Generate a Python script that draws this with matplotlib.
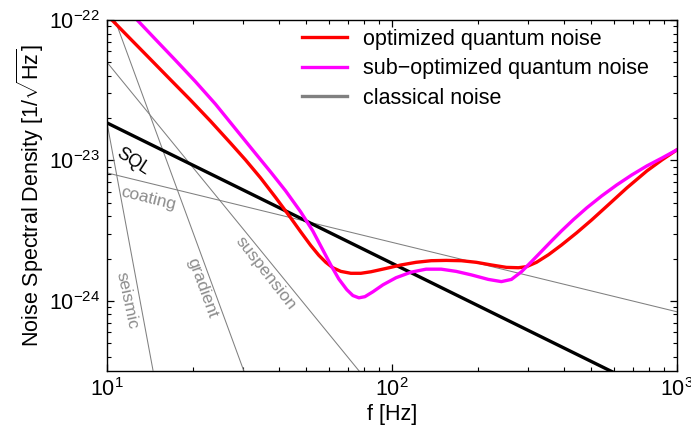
import matplotlib
matplotlib.use("Agg")
import matplotlib.pyplot as plt
from matplotlib.lines import Line2D

plt.rcParams['font.family'] = ['Liberation Sans', 'DejaVu Sans']
plt.rcParams['mathtext.fontset'] = 'custom'
plt.rcParams['mathtext.rm'] = 'Liberation Sans'
plt.rcParams['mathtext.it'] = 'Liberation Sans:italic'

# Optimized quantum noise: frequency [Hz] and amplitude spectral density [1/sqrt(Hz)]
f_opt = [10.41, 12.05, 14.17, 16.67, 19.60, 23.05, 27.11, 30.62, 34.57, 39.04,
         44.10, 47.82, 51.85, 55.35, 58.58, 61.98, 66.14, 71.73, 77.77, 84.36,
         95.25, 107.6, 121.5, 137.2, 155.0, 175.1, 197.6, 223.2, 252.0, 277.8,
         296.4, 321.4, 354.2, 393.6, 444.6, 502.1, 576.3, 666.8, 784.3, 885.6,
         1000.0]
asd_opt = [1.00e-22, 7.38e-23, 5.28e-23, 3.77e-23, 2.70e-23, 1.91e-23, 1.33e-23,
           1.008e-23, 7.51e-24, 5.45e-24, 3.90e-24, 3.10e-24, 2.48e-24, 2.11e-24,
           1.88e-24, 1.72e-24, 1.62e-24, 1.57e-24, 1.57e-24, 1.61e-24, 1.70e-24,
           1.80e-24, 1.88e-24, 1.93e-24, 1.94e-24, 1.93e-24, 1.88e-24, 1.80e-24,
           1.73e-24, 1.72e-24, 1.75e-24, 1.88e-24, 2.13e-24, 2.50e-24, 3.05e-24,
           3.77e-24, 4.86e-24, 6.37e-24, 8.42e-24, 1.008e-23, 1.19e-23]

# Sub-optimized quantum noise
f_sub = [12.76, 14.76, 17.35, 20.41, 24.01, 28.23, 33.20, 37.50, 42.33, 47.82,
         52.71, 57.15, 60.98, 65.06, 69.42, 72.89, 76.52, 80.34, 85.74, 92.97,
         103.3, 116.7, 131.7, 148.8, 168.0, 189.8, 217.8, 242.0, 262.4, 284.6,
         308.6, 334.6, 363.0, 393.6, 433.9, 482.2, 544.5, 614.8, 694.2, 784.3,
         885.6, 1000.0]
asd_sub = [1.00e-22, 7.32e-23, 5.19e-23, 3.65e-23, 2.52e-23, 1.68e-23, 1.12e-23,
           8.28e-24, 6.07e-24, 4.30e-24, 3.15e-24, 2.31e-24, 1.80e-24, 1.43e-24,
           1.20e-24, 1.09e-24, 1.05e-24, 1.07e-24, 1.16e-24, 1.30e-24, 1.46e-24,
           1.60e-24, 1.68e-24, 1.68e-24, 1.62e-24, 1.53e-24, 1.42e-24, 1.37e-24,
           1.42e-24, 1.61e-24, 1.90e-24, 2.25e-24, 2.67e-24, 3.15e-24, 3.80e-24,
           4.59e-24, 5.59e-24, 6.69e-24, 7.88e-24, 9.14e-24, 1.04e-23, 1.19e-23]

# Standard quantum limit (power law, end points)
f_sql = [10.0, 1000.0]
asd_sql = [1.85e-23, 1.85e-25]

# Classical noise budget (power laws, end points)
f_seismic = [10.0, 14.5]
asd_seismic = [1.85e-23, 3.2e-25]
f_gradient = [10.67, 30.2]
asd_gradient = [1.0e-22, 3.17e-25]
f_suspension = [10.0, 76.6]
asd_suspension = [5.0e-23, 3.17e-25]
f_coating = [10.0, 1000.0]
asd_coating = [8.15e-24, 8.35e-25]

gray = '#808080'
fig = plt.figure(figsize=(6.91, 4.32), dpi=100)
ax = fig.add_axes([107/691, 1-371/432, 570/691, 351/432])

for fx, ay in [(f_seismic, asd_seismic), (f_gradient, asd_gradient),
               (f_suspension, asd_suspension), (f_coating, asd_coating)]:
    ax.plot(fx, ay, color=gray, lw=0.75)

ax.plot(f_sql, asd_sql, color='black', lw=2.4)
ax.plot(f_opt, asd_opt, color='#ff0000', lw=2.4, solid_joinstyle='round')
ax.plot(f_sub, asd_sub, color='#ff00ff', lw=2.4, solid_joinstyle='round')

ax.set_xscale('log')
ax.set_yscale('log')
ax.set_xlim(10, 1000)
ax.set_ylim(10**-24.5, 1e-22)

ax.tick_params(which='both', direction='in', top=True, right=True, labelsize=15.5)
ax.tick_params(which='major', length=5, width=0.9, pad=5)
ax.tick_params(which='minor', length=2.8, width=0.8)
for s in ax.spines.values():
    s.set_linewidth(1.0)

ax.set_xlabel('f [Hz]', fontsize=15.5, labelpad=2)
ax.set_ylabel(r'Noise Spectral Density [1/$\sqrt{\mathrm{Hz}}$]', fontsize=15.5, labelpad=2)

# curve annotations
tc = '#8c8c8c'
ax.text(12.35, 9.75e-24, 'SQL', rotation=-33, fontsize=13, color='black',
        ha='center', va='center')
ax.text(13.94, 5.32e-24, 'coating', rotation=-14, fontsize=12.5, color=tc,
        ha='center', va='center')
ax.text(11.76, 1.0e-24, 'seismic', rotation=-78, fontsize=12.5, color=tc,
        ha='center', va='center')
ax.text(21.6, 1.24e-24, 'gradient', rotation=-70, fontsize=12.5, color=tc,
        ha='center', va='center')
ax.text(36.0, 1.58e-24, 'suspension', rotation=-52, fontsize=12.5, color=tc,
        ha='center', va='center')

handles = [Line2D([], [], color='#ff0000', lw=2.4),
           Line2D([], [], color='#ff00ff', lw=2.4),
           Line2D([], [], color=gray, lw=2.4)]
labels = ['optimized quantum noise', 'sub\u2212optimized quantum noise', 'classical noise']
ax.legend(handles, labels, loc='upper left', bbox_to_anchor=(195/570, 0.975),
          frameon=False, fontsize=15.5, handlelength=2.1, handletextpad=0.75,
          labelspacing=0.4, borderaxespad=0, borderpad=0)

fig.savefig('out.png', dpi=100)
